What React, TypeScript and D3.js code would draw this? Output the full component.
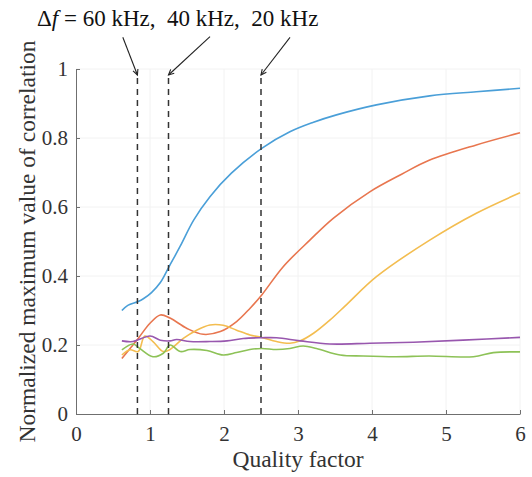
import React, { useEffect, useRef } from "react";
import * as d3 from "d3";

// quality factor -> normalized max correlation
const blueSeries: [number, number][] = [
  [0.62, 0.3], [0.7, 0.315], [0.84, 0.326], [0.91, 0.334], [1.02, 0.352], [1.14, 0.381],
  [1.26, 0.428], [1.41, 0.487], [1.59, 0.562], [1.81, 0.63], [2.1, 0.698], [2.51, 0.77],
  [2.89, 0.818], [3.2, 0.845], [3.52, 0.867], [4.06, 0.896], [4.78, 0.922], [5.41, 0.934], [6, 0.944],
];

const orangeSeries: [number, number][] = [
  [0.62, 0.161], [0.84, 0.219], [1.0, 0.263], [1.14, 0.287], [1.27, 0.278], [1.5, 0.248],
  [1.72, 0.231], [1.95, 0.239], [2.17, 0.268], [2.35, 0.306], [2.51, 0.345], [2.8, 0.427],
  [3.16, 0.504], [3.48, 0.568], [3.97, 0.644], [4.4, 0.695], [4.78, 0.736], [5.41, 0.78], [6, 0.815],
];

const yellowSeries: [number, number][] = [
  [0.62, 0.171], [0.73, 0.186], [0.84, 0.181], [0.93, 0.226], [1.04, 0.21], [1.18, 0.181],
  [1.27, 0.187], [1.45, 0.219], [1.63, 0.243], [1.81, 0.258], [1.99, 0.257], [2.17, 0.243],
  [2.35, 0.229], [2.51, 0.222], [2.71, 0.21], [2.89, 0.205], [3.03, 0.212], [3.21, 0.234],
  [3.43, 0.272], [3.66, 0.318], [4.06, 0.398], [4.78, 0.504], [5.41, 0.582], [6, 0.641],
];

const purpleSeries: [number, number][] = [
  [0.62, 0.212], [0.77, 0.21], [1.0, 0.226], [1.14, 0.214], [1.27, 0.212], [1.36, 0.216],
  [1.54, 0.21], [1.81, 0.21], [2.04, 0.212], [2.26, 0.219], [2.51, 0.221], [2.71, 0.221],
  [3.03, 0.212], [3.43, 0.203], [3.97, 0.205], [4.56, 0.208], [5.23, 0.214], [6, 0.222],
];

const greenSeries: [number, number][] = [
  [0.62, 0.186], [0.77, 0.203], [0.86, 0.19], [1.04, 0.166], [1.18, 0.176], [1.27, 0.2],
  [1.41, 0.181], [1.54, 0.187], [1.77, 0.184], [1.99, 0.171], [2.17, 0.178], [2.35, 0.187],
  [2.51, 0.19], [2.71, 0.187], [2.89, 0.19], [3.07, 0.197], [3.25, 0.19], [3.57, 0.171],
  [3.88, 0.168], [4.32, 0.166], [4.77, 0.168], [5.37, 0.166], [5.64, 0.178], [6, 0.18],
];

const seriesList = [blueSeries, orangeSeries, yellowSeries, purpleSeries, greenSeries];
const seriesColors = ["#4a9fd8", "#e8764f", "#f3bd50", "#9857ae", "#8dc257"];

// bandwidth markers (quality factor where each delta f sits)
const markerQ = [0.83, 1.25, 2.5];
const xTicks = [0, 1, 2, 3, 4, 5, 6];
const yTicks = [0, 0.2, 0.4, 0.6, 0.8, 1];

export default function App() {
  const ref = useRef<SVGSVGElement>(null);

  useEffect(() => {
    const svg = d3.select(ref.current);
    svg.selectAll("*").remove();

    const left = 76, right = 520, top = 69, bottom = 414;
    const font = "'Liberation Serif', 'Times New Roman', serif";

    const x = d3.scaleLinear().domain([0, 6]).range([left, right]);
    const y = d3.scaleLinear().domain([0, 1]).range([bottom, top]);

    // faint grid
    const grid = svg.append("g").attr("stroke", "#f2f2f2").attr("stroke-width", 1);
    grid.selectAll(".gx").data(xTicks.slice(1)).join("line")
      .attr("x1", d => x(d)).attr("x2", d => x(d)).attr("y1", bottom).attr("y2", top);
    grid.selectAll(".gy").data(yTicks.slice(1)).join("line")
      .attr("x1", left).attr("x2", right).attr("y1", d => y(d)).attr("y2", d => y(d));

    // axes, matlab style with inward ticks
    const xAxis = svg.append("g")
      .attr("transform", `translate(0, ${bottom})`)
      .call(d3.axisBottom(x).tickValues(xTicks).tickSizeInner(-4).tickSizeOuter(0).tickPadding(9).tickFormat(d3.format("d")));
    const yAxis = svg.append("g")
      .attr("transform", `translate(${left}, 0)`)
      .call(d3.axisLeft(y).tickValues(yTicks).tickSizeInner(-4).tickSizeOuter(0).tickPadding(8).tickFormat(d => `${d}`));

    [xAxis, yAxis].forEach(a => {
      a.select(".domain").attr("stroke", "#6f6f6f");
      a.selectAll(".tick line").attr("stroke", "#6f6f6f");
      a.selectAll(".tick text")
        .attr("fill", "#333")
        .attr("font-family", font)
        .attr("font-size", 21);
    });
    xAxis.selectAll(".tick text").attr("dy", "0.85em");

    // curves
    const line = d3.line<[number, number]>()
      .x(d => x(d[0]))
      .y(d => y(d[1]))
      .curve(d3.curveCatmullRom.alpha(0.5));

    svg.append("g").selectAll("path")
      .data(seriesList)
      .join("path")
      .attr("d", d => line(d))
      .attr("fill", "none")
      .attr("stroke", (d, i) => seriesColors[i])
      .attr("stroke-width", 1.6);

    // dashed markers
    const markTop = 75;
    svg.append("g").selectAll("line")
      .data(markerQ)
      .join("line")
      .attr("x1", d => x(d)).attr("x2", d => x(d))
      .attr("y1", bottom).attr("y2", markTop)
      .attr("stroke", "#333")
      .attr("stroke-width", 1.5)
      .attr("stroke-dasharray", "6,5");

    // annotation pointers
    const starts = [[122.8, 37.3], [210, 36.6], [290, 37.3]];
    const pointers = svg.append("g").attr("stroke", "#222").attr("stroke-width", 1.1).attr("fill", "none");
    markerQ.forEach((q, i) => {
      const [sx, sy] = starts[i];
      const ex = x(q), ey = markTop;
      pointers.append("line").attr("x1", sx).attr("y1", sy).attr("x2", ex).attr("y2", ey);
      const ang = Math.atan2(ey - sy, ex - sx);
      const len = 6, spread = 0.45;
      const p1 = [ex - len * Math.cos(ang - spread), ey - len * Math.sin(ang - spread)];
      const p2 = [ex - len * Math.cos(ang + spread), ey - len * Math.sin(ang + spread)];
      pointers.append("path").attr("d", `M${p1[0]},${p1[1]}L${ex},${ey}L${p2[0]},${p2[1]}`);
    });

    const label = svg.append("text")
      .attr("x", 37)
      .attr("y", 26)
      .attr("font-family", font)
      .attr("font-size", 23)
      .attr("fill", "#111")
      .style("white-space", "pre");
    label.append("tspan").text("\u0394");
    label.append("tspan").attr("font-style", "italic").text("f");
    label.append("tspan").text(" = 60 kHz,  40 kHz,  20 kHz");

    // axis titles
    svg.append("text")
      .attr("x", (left + right) / 2)
      .attr("y", 467)
      .attr("text-anchor", "middle")
      .attr("font-family", font)
      .attr("font-size", 23.5)
      .attr("fill", "#333")
      .text("Quality factor");

    svg.append("text")
      .attr("transform", `translate(35, ${(top + bottom) / 2}) rotate(-90)`)
      .attr("text-anchor", "middle")
      .attr("font-family", font)
      .attr("font-size", 23.5)
      .attr("fill", "#333")
      .text("Normalized maximum value of correlation");
  }, []);

  return (
    <svg
      ref={ref}
      width={532}
      height={477}
      style={{ position: "absolute", left: 0, top: 0, background: "#fff" }}
    />
  );
}
